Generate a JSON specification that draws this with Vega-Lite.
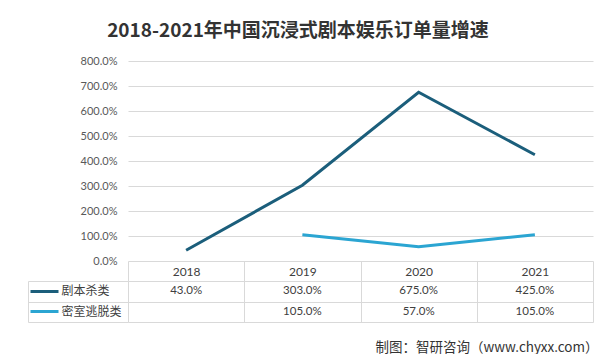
{
  "$schema": "https://vega.github.io/schema/vega-lite/v6.json",
  "padding": {"left": 27, "top": 22, "right": 0, "bottom": 0},
  "background": "white",
  "datasets": {
    "growth": [
      {"year": "2018", "series": "剧本杀类", "rate": 0.43},
      {"year": "2019", "series": "剧本杀类", "rate": 3.03},
      {"year": "2020", "series": "剧本杀类", "rate": 6.75},
      {"year": "2021", "series": "剧本杀类", "rate": 4.25},
      {"year": "2019", "series": "密室逃脱类", "rate": 1.05},
      {"year": "2020", "series": "密室逃脱类", "rate": 0.57},
      {"year": "2021", "series": "密室逃脱类", "rate": 1.05}
    ]
  },
  "title": {
    "text": "2018-2021年中国沉浸式剧本娱乐订单量增速",
    "font": "Noto Sans CJK SC",
    "fontSize": 19,
    "fontWeight": "bold",
    "color": "#333333",
    "anchor": "middle",
    "frame": "bounds",
    "dx": -15,
    "offset": 14
  },
  "bounds": "flush",
  "spacing": 20,
  "vconcat": [
    {
      "width": 465,
      "height": 200,
      "data": {"name": "growth"},
      "mark": {"type": "line", "strokeWidth": 3},
      "encoding": {
        "x": {"field": "year", "type": "ordinal", "scale": {"type": "point", "padding": 0.5}, "axis": null},
        "y": {
          "field": "rate", "type": "quantitative",
          "scale": {"domain": [0, 8]},
          "axis": {
            "values": [0, 1, 2, 3, 4, 5, 6, 7, 8],
            "format": ".1%",
            "grid": true, "gridColor": "#d9d9d9",
            "domain": false, "ticks": false,
            "labelPadding": 11, "labelColor": "#595959", "labelFontSize": 11,
            "labelFont": "Lato, Noto Sans CJK SC",
            "title": null
          }
        },
        "color": {
          "field": "series", "type": "nominal",
          "scale": {"domain": ["剧本杀类", "密室逃脱类"], "range": ["#1b5e7b", "#2ba5d2"]},
          "legend": null
        }
      }
    },
    {
      "width": 465,
      "height": 41,
      "title": {
        "text": "制图：智研咨询（www.chyxx.com）",
        "orient": "bottom", "anchor": "end",
        "font": "Noto Sans CJK SC", "fontSize": 13.5, "fontWeight": "normal",
        "color": "#333333", "offset": 18, "dx": 5
      },
      "data": {"name": "growth"},
      "layer": [
        {
          "mark": {"type": "rect", "opacity": 0},
          "encoding": {
            "x": {
              "field": "year", "type": "ordinal",
              "scale": {"type": "band", "paddingInner": 0, "paddingOuter": 0},
              "axis": {
                "orient": "top", "title": null,
                "tickBand": "extent", "ticks": true, "tickSize": 20, "tickColor": "#d9d9d9",
                "grid": true, "gridColor": "#d9d9d9", "domain": false,
                "labelAngle": 0, "labelBaseline": "middle", "labelPadding": -10,
                "labelColor": "#404040", "labelFontSize": 12, "labelFont": "Lato, Noto Sans CJK SC"
              }
            },
            "y": {
              "field": "series", "type": "nominal",
              "scale": {"domain": ["剧本杀类", "密室逃脱类"], "paddingInner": 0, "paddingOuter": 0},
              "axis": {
                "orient": "left", "offset": 100, "title": null,
                "domain": true, "domainColor": "#d9d9d9",
                "tickBand": "extent", "ticks": true, "tickSize": -100, "tickColor": "#d9d9d9",
                "labels": false,
                "grid": true, "gridColor": "#d9d9d9"
              }
            }
          }
        },
        {
          "mark": {"type": "text", "fontSize": 11.5, "color": "#404040", "font": "Lato, Noto Sans CJK SC"},
          "encoding": {
            "x": {
              "field": "year", "type": "ordinal",
              "scale": {"type": "band", "paddingInner": 0, "paddingOuter": 0},
              "axis": null
            },
            "y": {
              "field": "series", "type": "nominal",
              "scale": {"domain": ["剧本杀类", "密室逃脱类"], "paddingInner": 0, "paddingOuter": 0},
              "axis": {
                "orient": "left", "offset": 70, "title": null,
                "domain": false, "grid": false,
                "ticks": true, "tickSize": 28, "tickWidth": 3,
                "tickColor": {"condition": {"test": "datum.value === '剧本杀类'", "value": "#1b5e7b"}, "value": "#2ba5d2"},
                "labels": true, "labelAlign": "left", "labelBaseline": "middle", "labelPadding": -31,
                "labelColor": "#404040", "labelFontSize": 12, "labelFont": "Noto Sans CJK SC"
              }
            },
            "text": {"field": "rate", "type": "quantitative", "format": ".1%"}
          }
        }
      ],
      "resolve": {"axis": {"x": "independent", "y": "independent"}}
    }
  ],
  "config": {
    "view": {"stroke": null}
  }
}
